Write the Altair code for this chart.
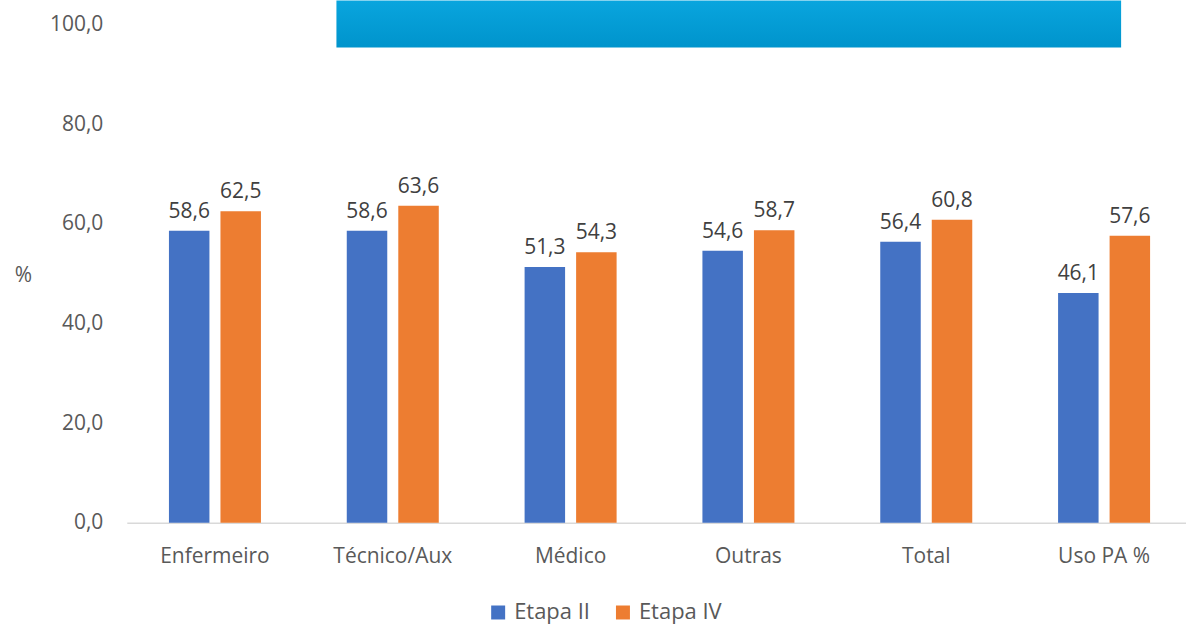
import altair as alt
import pandas as pd

categories = ["Enfermeiro", "Técnico/Aux", "Médico", "Outras", "Total", "Uso PA %"]
series = ["Etapa II", "Etapa IV"]
etapa_ii = [58.6, 58.6, 51.3, 54.6, 56.4, 46.1]
etapa_iv = [62.5, 63.6, 54.3, 58.7, 60.8, 57.6]
y_ticks = [0, 20, 40, 60, 80, 100]
colors = ["#4472C4", "#ED7D31"]

rows = []
for c, a, b in zip(categories, etapa_ii, etapa_iv):
    rows.append({"cat": c, "serie": series[0], "value": a})
    rows.append({"cat": c, "serie": series[1], "value": b})
df = pd.DataFrame(rows)

FONT = "Open Sans"
GREY = "#595959"
FS = 21

x_enc = alt.X(
    "cat:N",
    sort=categories,
    title=None,
    scale=alt.Scale(paddingInner=0.4826, paddingOuter=0.2195, align=0.54),
    axis=alt.Axis(
        labelAngle=0, labelFontSize=FS, labelColor=GREY, labelFont=FONT,
        labelPadding=23, ticks=False, domainColor="#D9D9D9", domainWidth=1.5,
        grid=False,
    ),
)
xoff = alt.XOffset("serie:N", sort=series, scale=alt.Scale(paddingInner=0.214, paddingOuter=0))
y_enc = alt.Y(
    "value:Q",
    scale=alt.Scale(domain=[0, 100], nice=False),
    axis=alt.Axis(
        values=y_ticks, grid=False, ticks=False, domain=False,
        labelExpr="replace(format(datum.value, '.1f'), '.', ',')",
        labelFontSize=FS, labelColor=GREY, labelFont=FONT, labelPadding=24,
        title="%", titleAngle=0, titleFontSize=FS, titleColor=GREY, titleFont=FONT,
        titleFontWeight="normal", titleX=-104, titleY=251, titleAlign="center",
        titleBaseline="middle",
    ),
)

bars = alt.Chart(df).mark_bar().encode(
    x=x_enc,
    xOffset=xoff,
    y=y_enc,
    color=alt.Color(
        "serie:N", sort=series, scale=alt.Scale(domain=series, range=colors),
        legend=alt.Legend(
            title=None, orient="none", direction="horizontal", legendX=361, legendY=578,
            symbolType="square", symbolSize=196, symbolStrokeWidth=0,
            labelFontSize=22, labelColor=GREY, labelFont=FONT, columnPadding=22,
            symbolOffset=0, labelOffset=5,
        ),
    ),
)

labels = alt.Chart(df).transform_calculate(
    lbl="replace(format(datum.value, '.1f'), '.', ',')"
).mark_text(dy=-9, baseline="bottom", fontSize=FS, font=FONT, color="#404040").encode(
    x=alt.X("cat:N", sort=categories),
    xOffset=alt.XOffset("serie:N", sort=series),
    y="value:Q",
    text="lbl:N",
)

banner = alt.Chart(pd.DataFrame({"k": [0]})).mark_rect(
    color=alt.Gradient(
        gradient="linear",
        stops=[alt.GradientStop(color="#09A5DE", offset=0), alt.GradientStop(color="#0094CC", offset=1)],
        x1=0, x2=0, y1=0, y2=1,
    )
).encode(
    x=alt.value(210), x2=alt.value(996), y=alt.value(-24), y2=alt.value(23)
)

chart = alt.layer(banner, bars, labels).properties(
    width=1061, height=499,
    padding={"left": 14, "top": 0, "right": 0, "bottom": 0},
    background="white",
).configure_view(stroke=None)

chart.save("out.html", embed_options={"renderer": "svg", "actions": False})
